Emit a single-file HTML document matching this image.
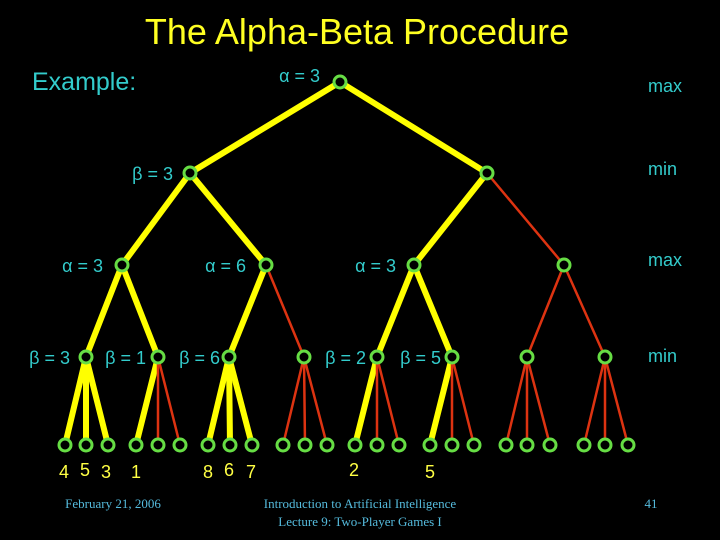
<!DOCTYPE html>
<html><head><style>
html,body{margin:0;padding:0;background:#000;}
svg{display:block;}
text{font-family:"Liberation Sans",sans-serif;}
.c{fill:#33cccc;}
.s{font-family:"Liberation Serif",serif;fill:#55bbdd;font-size:13px;}
</style></head><body>
<svg width="720" height="540" viewBox="0 0 720 540" xmlns="http://www.w3.org/2000/svg">
<rect width="720" height="540" fill="#000"/>
<text x="357" y="44" text-anchor="middle" fill="#ffff22" font-size="36">The Alpha-Beta Procedure</text>
<text x="32" y="90" class="c" font-size="25">Example:</text>
<g stroke-linecap="round">
<g stroke="#ffff00" stroke-width="6">
<line x1="340" y1="82" x2="190" y2="173"/><line x1="340" y1="82" x2="487" y2="173"/>
<line x1="190" y1="173" x2="122" y2="265"/><line x1="190" y1="173" x2="266" y2="265"/>
<line x1="487" y1="173" x2="414" y2="265"/>
<line x1="122" y1="265" x2="86" y2="357"/><line x1="122" y1="265" x2="158" y2="357"/>
<line x1="266" y1="265" x2="229" y2="357"/>
<line x1="414" y1="265" x2="377" y2="357"/><line x1="414" y1="265" x2="452" y2="357"/>
<line x1="86" y1="357" x2="65" y2="445"/><line x1="86" y1="357" x2="86" y2="445"/><line x1="86" y1="357" x2="108" y2="445"/>
<line x1="158" y1="357" x2="136" y2="445"/>
<line x1="229" y1="357" x2="208" y2="445"/><line x1="229" y1="357" x2="230" y2="445"/><line x1="229" y1="357" x2="252" y2="445"/>
<line x1="377" y1="357" x2="355" y2="445"/>
<line x1="452" y1="357" x2="430" y2="445"/>
</g>
<g stroke="#dd3311" stroke-width="2.5">
<line x1="487" y1="173" x2="564" y2="265"/>
<line x1="266" y1="265" x2="304" y2="357"/>
<line x1="564" y1="265" x2="527" y2="357"/><line x1="564" y1="265" x2="605" y2="357"/>
<line x1="158" y1="357" x2="158" y2="445"/><line x1="158" y1="357" x2="180" y2="445"/>
<line x1="304" y1="357" x2="283" y2="445"/><line x1="304" y1="357" x2="305" y2="445"/><line x1="304" y1="357" x2="327" y2="445"/>
<line x1="377" y1="357" x2="377" y2="445"/><line x1="377" y1="357" x2="399" y2="445"/>
<line x1="452" y1="357" x2="452" y2="445"/><line x1="452" y1="357" x2="474" y2="445"/>
<line x1="527" y1="357" x2="506" y2="445"/><line x1="527" y1="357" x2="527" y2="445"/><line x1="527" y1="357" x2="550" y2="445"/>
<line x1="605" y1="357" x2="584" y2="445"/><line x1="605" y1="357" x2="605" y2="445"/><line x1="605" y1="357" x2="628" y2="445"/>
</g>
</g>
<g fill="#000" stroke="#66dd44" stroke-width="3">
<circle cx="340" cy="82" r="6"/>
<circle cx="190" cy="173" r="6"/><circle cx="487" cy="173" r="6"/>
<circle cx="122" cy="265" r="6"/><circle cx="266" cy="265" r="6"/><circle cx="414" cy="265" r="6"/><circle cx="564" cy="265" r="6"/>
<circle cx="86" cy="357" r="6"/><circle cx="158" cy="357" r="6"/><circle cx="229" cy="357" r="6"/><circle cx="304" cy="357" r="6"/><circle cx="377" cy="357" r="6"/><circle cx="452" cy="357" r="6"/><circle cx="527" cy="357" r="6"/><circle cx="605" cy="357" r="6"/>
<circle cx="65" cy="445" r="6"/><circle cx="86" cy="445" r="6"/><circle cx="108" cy="445" r="6"/>
<circle cx="136" cy="445" r="6"/><circle cx="158" cy="445" r="6"/><circle cx="180" cy="445" r="6"/>
<circle cx="208" cy="445" r="6"/><circle cx="230" cy="445" r="6"/><circle cx="252" cy="445" r="6"/>
<circle cx="283" cy="445" r="6"/><circle cx="305" cy="445" r="6"/><circle cx="327" cy="445" r="6"/>
<circle cx="355" cy="445" r="6"/><circle cx="377" cy="445" r="6"/><circle cx="399" cy="445" r="6"/>
<circle cx="430" cy="445" r="6"/><circle cx="452" cy="445" r="6"/><circle cx="474" cy="445" r="6"/>
<circle cx="506" cy="445" r="6"/><circle cx="527" cy="445" r="6"/><circle cx="550" cy="445" r="6"/>
<circle cx="584" cy="445" r="6"/><circle cx="605" cy="445" r="6"/><circle cx="628" cy="445" r="6"/>
</g>
<g class="c" font-size="18">
<text x="320" y="82" text-anchor="end">α = 3</text>
<text x="648" y="92">max</text>
<text x="173" y="180" text-anchor="end">β = 3</text>
<text x="648" y="175">min</text>
<text x="103" y="272" text-anchor="end">α = 3</text>
<text x="246" y="272" text-anchor="end">α = 6</text>
<text x="396" y="272" text-anchor="end">α = 3</text>
<text x="648" y="266">max</text>
<text x="70" y="364" text-anchor="end">β = 3</text>
<text x="146" y="364" text-anchor="end">β = 1</text>
<text x="220" y="364" text-anchor="end">β = 6</text>
<text x="366" y="364" text-anchor="end">β = 2</text>
<text x="441" y="364" text-anchor="end">β = 5</text>
<text x="648" y="362">min</text>
</g>
<g fill="#ffff44" font-size="18" text-anchor="middle">
<text x="64" y="478">4</text><text x="85" y="476">5</text><text x="106" y="478">3</text><text x="136" y="478">1</text>
<text x="208" y="478">8</text><text x="229" y="476">6</text><text x="251" y="478">7</text>
<text x="354" y="476">2</text><text x="430" y="478">5</text>
</g>
<text x="113" y="508" class="s" text-anchor="middle">February 21, 2006</text>
<text x="360" y="508" class="s" text-anchor="middle">Introduction to Artificial Intelligence</text>
<text x="360" y="526" class="s" text-anchor="middle">Lecture 9: Two-Player Games I</text>
<text x="651" y="508" class="s" text-anchor="middle">41</text>
</svg>
</body></html>
